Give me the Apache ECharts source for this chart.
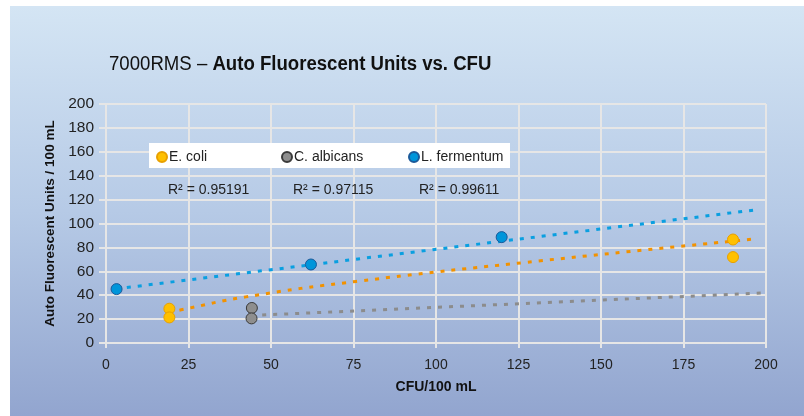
<!DOCTYPE html>
<html>
<head>
<meta charset="utf-8">
<title>7000RMS</title>
<script src="https://cdn.jsdelivr.net/npm/echarts@6/dist/echarts.min.js"></script>
<style>
  html, body { margin: 0; padding: 0; background: #fff; }
</style>
</head>
<body>
<div id="main" style="width:804px;height:416px;"></div>
<script type="text/javascript">
// measured points
var eColi = [[19.2, 28.7], [19.2, 21.4], [190, 86.6], [190, 71.9]];
var cAlbicans = [[44.2, 29.3], [44.1, 20.6]];
var lFermentum = [[3.2, 45.1], [62.1, 65.7], [119.9, 88.6]];

// trendlines as drawn in the picture
var eColiTrend = [[19, 25.5], [22.8, 27.8], [42.4, 38.6], [75.8, 51.5], [132.4, 69.0], [196, 86.9]];
var cAlbicansTrend = [[44, 23.0], [198.5, 41.8]];
var lFermentumTrend = [[3, 45.3], [196.5, 111.3]];

var seriesNames = ['E. coli', 'C. albicans', 'L. fermentum'];
var rSquared = ['R² = 0.95191', 'R² = 0.97115', 'R² = 0.99611'];

var font = "'Liberation Sans', Arial, sans-serif";
var gridColor = '#e6e6e6';

var myChart = echarts.init(document.getElementById('main'));

function trend(data, color) {
  return {
    type: 'line',
    data: data,
    smooth: data.length > 2,
    symbol: 'none',
    silent: true,
    z: 1,
    lineStyle: { color: color, width: 3, type: [4, 7], cap: 'butt' }
  };
}

function points(name, data, fill, border) {
  return {
    name: name,
    type: 'scatter',
    data: data,
    symbol: 'circle',
    symbolSize: 11,
    z: 3,
    itemStyle: { color: fill, borderColor: border, borderWidth: 1, opacity: 1 }
  };
}

// one legend per item so they sit where the original places them
var legendLefts = [156, 281, 408];
var legends = seriesNames.map(function (n, i) {
  return {
    data: [n],
    left: legendLefts[i],
    top: 150,
    padding: 0,
    z: 6,
    icon: 'circle',
    itemWidth: 10,
    itemHeight: 10,
    selectedMode: false,
    textStyle: { fontFamily: font, fontSize: 14, color: '#222', padding: [0, 0, 0, -3] }
  };
});

var rTexts = [168, 293, 419].map(function (x, i) {
  return {
    type: 'text', left: x, top: 183, z: 5,
    style: { text: rSquared[i], fontFamily: font, fontSize: 14, fill: '#222' }
  };
});

var option = {
  animation: false,
  graphic: [
    {
      type: 'rect',
      shape: { x: 10, y: 6, width: 794, height: 410 },
      z: -10,
      style: {
        fill: new echarts.graphic.LinearGradient(0, 0, 0, 1, [
          { offset: 0, color: '#d4e5f4' },
          { offset: 0.5, color: '#b6cae6' },
          { offset: 1, color: '#92a5cf' }
        ])
      }
    },
    {
      type: 'text',
      x: 109,
      y: 54,
      scaleX: 0.93,
      style: {
        text: '{a|7000RMS – }{b|Auto Fluorescent Units vs. CFU}',
        rich: {
          a: { fontFamily: font, fontSize: 20, fontWeight: 'normal', fill: '#111' },
          b: { fontFamily: font, fontSize: 20, fontWeight: 'bold', fill: '#111' }
        }
      }
    },
    {
      type: 'rect',
      shape: { x: 149, y: 143, width: 361, height: 25 },
      z: 5,
      style: { fill: '#ffffff' }
    }
  ].concat(rTexts),
  legend: legends,
  grid: { left: 106, right: 38, top: 104, bottom: 73, containLabel: false },
  xAxis: {
    type: 'value',
    min: 0,
    max: 200,
    interval: 25,
    name: 'CFU/100 mL',
    nameLocation: 'middle',
    nameGap: 37,
    nameTextStyle: { fontFamily: font, fontWeight: 'bold', fontSize: 14, color: '#111' },
    axisLine: { show: true, lineStyle: { color: gridColor, width: 2 } },
    axisTick: { show: true, length: 5, lineStyle: { color: gridColor, width: 2 } },
    axisLabel: { margin: 15, fontFamily: font, fontSize: 14, color: '#222' },
    splitLine: { show: true, lineStyle: { color: gridColor, width: 2 } }
  },
  yAxis: {
    type: 'value',
    min: 0,
    max: 200,
    interval: 20,
    name: 'Auto Fluorescent Units / 100 mL',
    nameLocation: 'middle',
    nameGap: 42,
    nameTextStyle: { fontFamily: font, fontWeight: 'bold', fontSize: 13.5, color: '#111' },
    axisLine: { show: true, lineStyle: { color: gridColor, width: 2 } },
    axisTick: { show: true, length: 7, lineStyle: { color: gridColor, width: 2 } },
    axisLabel: { margin: 12, fontFamily: font, fontSize: 15.5, color: '#222' },
    splitLine: { show: true, lineStyle: { color: gridColor, width: 2 } }
  },
  series: [
    trend(eColiTrend, '#f29200'),
    trend(cAlbicansTrend, '#8c8c8c'),
    trend(lFermentumTrend, '#0a9fe0'),
    points(seriesNames[0], eColi, '#ffc000', '#e8a000'),
    points(seriesNames[1], cAlbicans, '#8e8e8e', '#3a3a3a'),
    points(seriesNames[2], lFermentum, '#0095da', '#1b5a9a')
  ]
};

myChart.setOption(option);
</script>
</body>
</html>
